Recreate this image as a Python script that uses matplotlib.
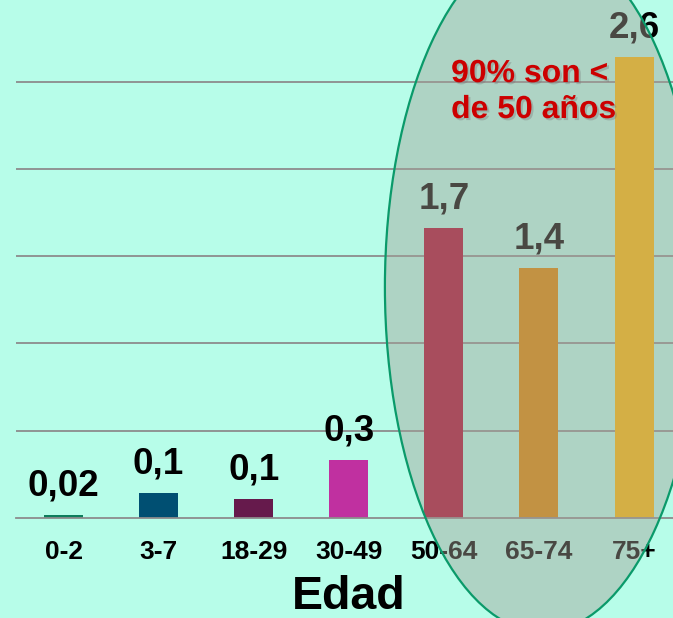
"""Bar chart of rate by age group, with the older groups circled."""
import matplotlib

matplotlib.use("Agg")
import matplotlib.pyplot as plt
import matplotlib.patheffects as pe
from matplotlib.colors import to_rgba
from matplotlib.patches import Ellipse

# Data
age_groups = ["0-2", "3-7", "18-29", "30-49", "50-64", "65-74", "75+"]
bar_heights = [0.017, 0.145, 0.109, 0.33, 1.66, 1.43, 2.64]
value_labels = ["0,02", "0,1", "0,1", "0,3", "1,7", "1,4", "2,6"]
bar_colors = ["#0e7d5c", "#004f72", "#661a4c", "#c030a0",
              "#ad0a2e", "#dc8800", "#fdbd02"]
grid_levels = [0.5, 1.0, 1.5, 2.0, 2.5]
note_lines = ["90% son <", "de 50 años"]

BG = "#b7fde9"
FONT = "Liberation Sans"


def build_chart(output_file: str = "out.png") -> None:
    """Draw the bar chart and save it."""
    plt.rcParams["font.family"] = [FONT, "DejaVu Sans"]
    plt.rcParams["font.weight"] = "bold"

    fig = plt.figure(figsize=(6.73, 6.18), dpi=100, facecolor=BG)
    ax = fig.add_axes([16 / 673, 100 / 618, 1 - 16 / 673, 518 / 618])
    ax.set_facecolor(BG)

    x = list(range(len(age_groups)))
    ax.bar(x, bar_heights, width=0.41, color=bar_colors, zorder=2)

    # value labels above each bar
    for xi, h, lab in zip(x, bar_heights, value_labels):
        ax.annotate(lab, (xi, h), xytext=(0, 14), textcoords="offset points",
                    ha="center", va="baseline", fontsize=26.5,
                    fontweight="bold", color="black", zorder=3)

    ax.set_xlim(-0.5, 6.41)
    ax.set_ylim(0, 2.967)

    # gridlines
    ax.set_yticks(grid_levels)
    ax.yaxis.grid(True, color="#8c8c8c", linewidth=1.3)
    ax.set_axisbelow(True)
    ax.tick_params(axis="y", left=False, labelleft=False)

    ax.set_xticks(x)
    ax.set_xticklabels(age_groups, fontsize=19, fontweight="bold")
    ax.tick_params(axis="x", length=0, pad=16)

    for side in ["top", "right", "left"]:
        ax.spines[side].set_visible(False)
    ax.spines["bottom"].set_color("#8c8c8c")
    ax.spines["bottom"].set_linewidth(1.3)

    # translucent ellipse around the three oldest groups
    ell = Ellipse((5.04, 1.323), 3.32, 3.95,
                  facecolor=to_rgba("#a4a097", 0.45),
                  edgecolor="#0a9a6a", linewidth=1.6,
                  clip_on=False, zorder=4)
    ax.add_patch(ell)

    shadow = [pe.SimplePatchShadow(offset=(1.5, -1.5),
                                   shadow_rgbFace="#777777", alpha=0.35),
              pe.Normal()]
    for line, y in zip(note_lines, [2.497, 2.291]):
        ax.text(4.076, y, line, ha="left", va="baseline", fontsize=23,
                fontweight="bold", color="#cc0000", zorder=5,
                path_effects=shadow)

    fig.text(349 / 673, 9 / 618, "Edad", ha="center", va="baseline",
             fontsize=33.5, fontweight="bold", color="black")

    fig.savefig(output_file, dpi=100, facecolor=BG)
    plt.close(fig)


def main() -> None:
    build_chart()


if __name__ == "__main__":
    main()
